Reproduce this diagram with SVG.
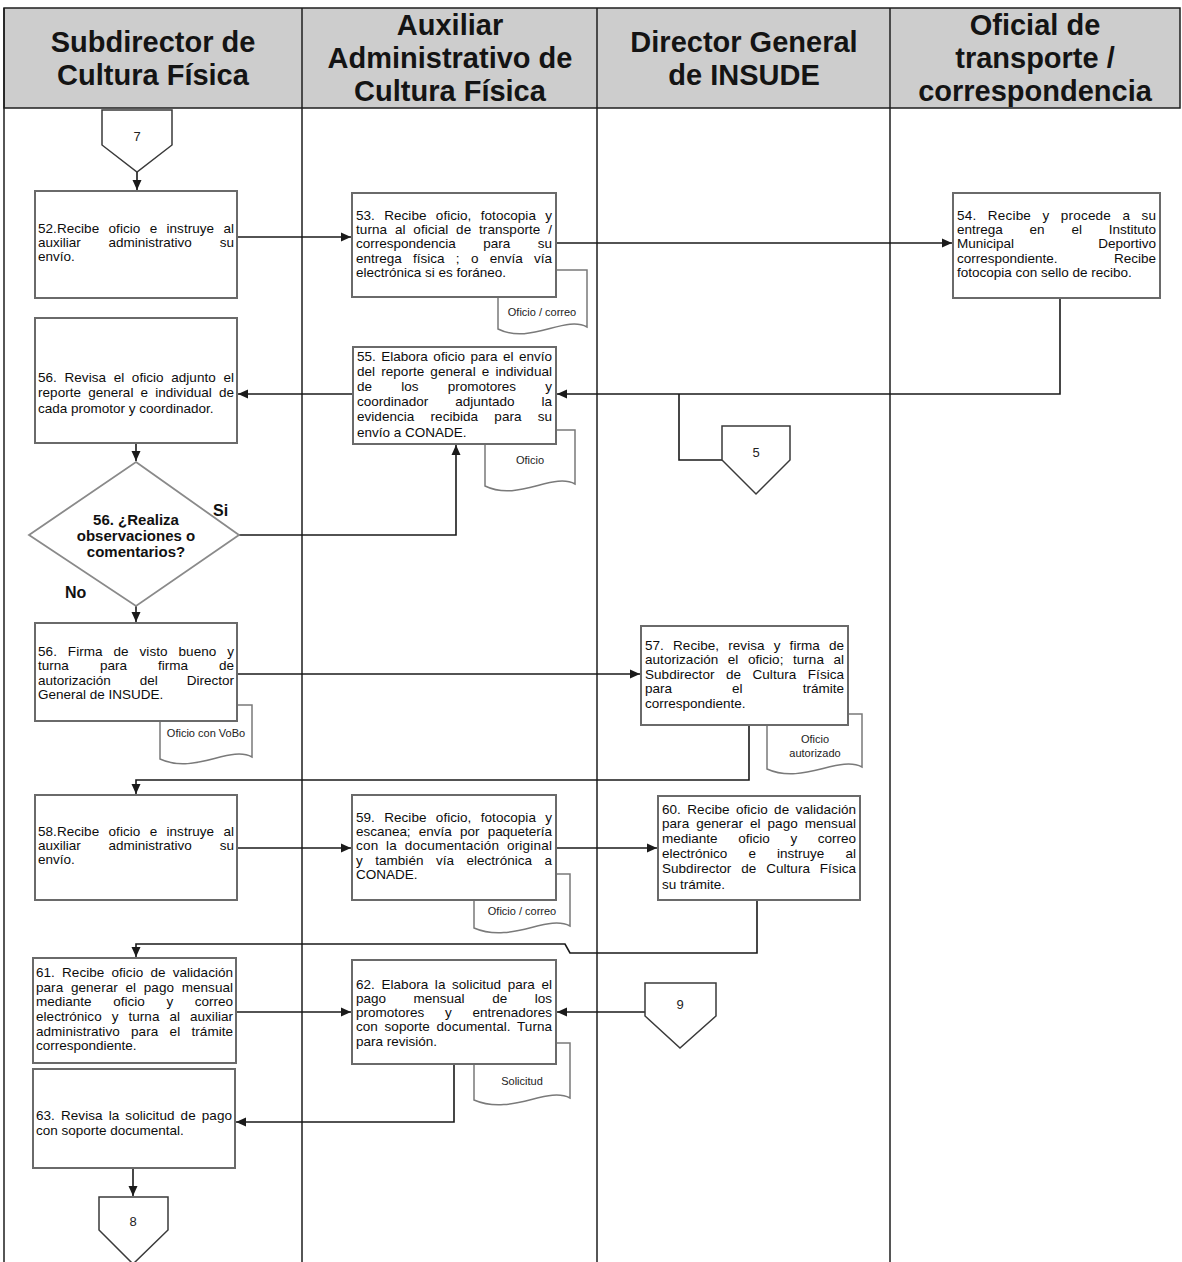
<svg xmlns="http://www.w3.org/2000/svg" width="1182" height="1262" viewBox="0 0 1182 1262">
  <style>
    .lane { stroke: #1e1e1e; stroke-width: 1.5; fill: none; }
    .hdr { font-family: "Liberation Sans", Arial, sans-serif; font-weight: bold; font-size: 29px; fill: #141414; text-anchor: middle; }
    .box { fill: #ffffff; stroke: #6a6a6a; stroke-width: 2; }
    .doc { fill: #ffffff; stroke: #7a7a7a; stroke-width: 1.5; }
    .off { fill: #ffffff; stroke: #3a3a3a; stroke-width: 1.5; }
    .dia { fill: #ffffff; stroke: #8a8a8a; stroke-width: 1.8; }
    .t { font-family: "Liberation Sans", Arial, sans-serif; font-size: 13.5px; fill: #0c0c0c; }
    .r { text-anchor: end; }
    .dt { font-family: "Liberation Sans", Arial, sans-serif; font-size: 11px; fill: #222222; text-anchor: middle; }
    .qt { font-family: "Liberation Sans", Arial, sans-serif; font-size: 15px; font-weight: bold; fill: #111111; text-anchor: middle; }
    .lbl { font-family: "Liberation Sans", Arial, sans-serif; font-size: 16px; font-weight: bold; fill: #111111; }
    .num { font-family: "Liberation Sans", Arial, sans-serif; font-size: 13px; fill: #222222; text-anchor: middle; }
    .wire { fill: none; stroke: #1a1a1a; stroke-width: 1.6; }
  </style>
  <defs>
    <marker id="arr" markerUnits="userSpaceOnUse" markerWidth="12" markerHeight="10" refX="10" refY="5" orient="auto">
      <path d="M0,0.5 L10,5 L0,9.5 Z" fill="#1a1a1a"/>
    </marker>
  </defs>

  <rect width="1182" height="1262" fill="#ffffff"/>

  <!-- swimlane header -->
  <g id="header">
    <rect x="4" y="8" width="1176" height="100" fill="#cdcdcd" stroke="#1e1e1e" stroke-width="1.5"/>
    <text class="hdr"><tspan x="153" y="52">Subdirector de</tspan><tspan x="153" y="85">Cultura Física</tspan></text>
    <text class="hdr"><tspan x="450" y="35">Auxiliar</tspan><tspan x="450" y="68">Administrativo de</tspan><tspan x="450" y="101">Cultura Física</tspan></text>
    <text class="hdr"><tspan x="744" y="52">Director General</tspan><tspan x="744" y="85">de INSUDE</tspan></text>
    <text class="hdr"><tspan x="1035" y="35">Oficial de</tspan><tspan x="1035" y="68">transporte /</tspan><tspan x="1035" y="101">correspondencia</tspan></text>
  </g>

  <!-- lane dividers -->
  <g id="lanes">
    <line class="lane" x1="4" y1="8" x2="4" y2="1262"/>
    <line class="lane" x1="302" y1="8" x2="302" y2="1262"/>
    <line class="lane" x1="597" y1="8" x2="597" y2="1262"/>
    <line class="lane" x1="890" y1="8" x2="890" y2="1262"/>
  </g>

  <!-- document outputs (drawn beneath the process boxes) -->
  <g id="documents">
    <g id="doc-53">
      <path class="doc" d="M498,270 H587 V327 C565,315 530,345 498,329 Z"/>
      <text class="dt" x="542" y="316">Oficio / correo</text>
    </g>
    <g id="doc-55">
      <path class="doc" d="M485,430 H575 V484 C553,472 518,502 485,486 Z"/>
      <text class="dt" x="530" y="464">Oficio</text>
    </g>
    <g id="doc-56b">
      <path class="doc" d="M160,705 H252 V757 C230,745 194,775 160,759 Z"/>
      <text class="dt" x="206" y="737">Oficio con VoBo</text>
    </g>
    <g id="doc-57">
      <path class="doc" d="M767,714 H862 V767 C839,755 802,785 767,769 Z"/>
      <text class="dt"><tspan x="815" y="743">Oficio</tspan><tspan x="815" y="757">autorizado</tspan></text>
    </g>
    <g id="doc-59">
      <path class="doc" d="M474,874 H570 V926 C547,914 511,944 474,928 Z"/>
      <text class="dt" x="522" y="915">Oficio / correo</text>
    </g>
    <g id="doc-62">
      <path class="doc" d="M474,1043 H570 V1098 C547,1086 511,1116 474,1100 Z"/>
      <text class="dt" x="522" y="1085">Solicitud</text>
    </g>
  </g>

  <!-- connectors -->
  <g id="connectors">
    <path class="wire" d="M137,172 V190" marker-end="url(#arr)"/>
    <path class="wire" d="M237,237 H351" marker-end="url(#arr)"/>
    <path class="wire" d="M556,243 H952" marker-end="url(#arr)"/>
    <path class="wire" d="M1060,298 V394 H557" marker-end="url(#arr)"/>
    <path class="wire" d="M679,394 V460 H722"/>
    <path class="wire" d="M353,394 H238" marker-end="url(#arr)"/>
    <path class="wire" d="M136,443 V461" marker-end="url(#arr)"/>
    <path class="wire" d="M238,535 H456 V445" marker-end="url(#arr)"/>
    <path class="wire" d="M136,606 V622" marker-end="url(#arr)"/>
    <path class="wire" d="M237,674 H640" marker-end="url(#arr)"/>
    <path class="wire" d="M749,725 V780 H136 V794" marker-end="url(#arr)"/>
    <path class="wire" d="M237,848 H351" marker-end="url(#arr)"/>
    <path class="wire" d="M556,848 H657" marker-end="url(#arr)"/>
    <path class="wire" d="M757,900 V953 H570 L565,944 H136 V957" marker-end="url(#arr)"/>
    <path class="wire" d="M236,1012 H351" marker-end="url(#arr)"/>
    <path class="wire" d="M645,1012 H557" marker-end="url(#arr)"/>
    <path class="wire" d="M454,1064 V1122 H236" marker-end="url(#arr)"/>
    <path class="wire" d="M133,1168 V1196" marker-end="url(#arr)"/>
  </g>

  <!-- off-page connectors -->
  <g id="off-7">
    <path class="off" d="M102,110 H172 V145 L137,172 L102,145 Z"/>
    <text class="num" x="137" y="141">7</text>
  </g>
  <g id="off-5">
    <path class="off" d="M722,426 H790 V460 L756,494 L722,460 Z"/>
    <text class="num" x="756" y="457">5</text>
  </g>
  <g id="off-9">
    <path class="off" d="M645,983 H716 V1016 L680,1048 L645,1016 Z"/>
    <text class="num" x="680" y="1009">9</text>
  </g>
  <g id="off-8">
    <path class="off" d="M99,1197 H168 V1230 L133,1264 L99,1230 Z"/>
    <text class="num" x="133" y="1226">8</text>
  </g>

  <!-- Subdirector de Cultura Física -->
  <g id="step-52">
    <rect class="box" x="35" y="191" width="202" height="107"/>
    <text class="t" x="38" y="233" textLength="196" lengthAdjust="spacing" word-spacing="5.5">52.Recibe oficio e instruye al</text>
    <text class="t" y="247"><tspan x="38">auxiliar</tspan><tspan x="108.6">administrativo</tspan><tspan class="r" x="234">su</tspan></text>
    <text class="t" x="38" y="261">envío.</text>
  </g>

  <g id="step-56-revisa">
    <rect class="box" x="35" y="318" width="202" height="125"/>
    <text class="t" x="38" y="382" textLength="196" lengthAdjust="spacing" word-spacing="3.8">56. Revisa el oficio adjunto el</text>
    <text class="t" x="38" y="397" textLength="196" lengthAdjust="spacing" word-spacing="3.3">reporte general e individual de</text>
    <text class="t" x="38" y="413">cada promotor y coordinador.</text>
  </g>

  <g id="decision-56">
    <path class="dia" d="M136,462 L239,535 L136,606 L29,535 Z"/>
    <text class="qt"><tspan x="136" y="525">56. ¿Realiza</tspan><tspan x="136" y="541">observaciones o</tspan><tspan x="136" y="557">comentarios?</tspan></text>
    <text class="lbl" x="213" y="516">Si</text>
    <text class="lbl" x="65" y="598">No</text>
  </g>

  <g id="step-56-firma">
    <rect class="box" x="35" y="623" width="202" height="98"/>
    <text class="t" x="38" y="656" textLength="196" lengthAdjust="spacing" word-spacing="7.1">56. Firma de visto bueno y</text>
    <text class="t" y="670"><tspan x="38">turna</tspan><tspan x="99.9">para</tspan><tspan x="158">firma</tspan><tspan class="r" x="234">de</tspan></text>
    <text class="t" y="685"><tspan x="38">autorización</tspan><tspan x="139.8">del</tspan><tspan class="r" x="234">Director</tspan></text>
    <text class="t" x="38" y="699">General de INSUDE.</text>
  </g>

  <g id="step-58">
    <rect class="box" x="35" y="795" width="202" height="105"/>
    <text class="t" x="38" y="836" textLength="196" lengthAdjust="spacing" word-spacing="5.5">58.Recibe oficio e instruye al</text>
    <text class="t" y="850"><tspan x="38">auxiliar</tspan><tspan x="108.6">administrativo</tspan><tspan class="r" x="234">su</tspan></text>
    <text class="t" x="38" y="864">envío.</text>
  </g>

  <g id="step-61">
    <rect class="box" x="33" y="958" width="203" height="105"/>
    <text class="t" x="36" y="977" textLength="197" lengthAdjust="spacing" word-spacing="3.4">61. Recibe oficio de validación</text>
    <text class="t" x="36" y="992" textLength="197" lengthAdjust="spacing" word-spacing="3.9">para generar el pago mensual</text>
    <text class="t" y="1006"><tspan x="36">mediante</tspan><tspan x="113.2">oficio</tspan><tspan x="166.4">y</tspan><tspan class="r" x="233">correo</tspan></text>
    <text class="t" x="36" y="1021" textLength="197" lengthAdjust="spacing" word-spacing="6.2">electrónico y turna al auxiliar</text>
    <text class="t" x="36" y="1036" textLength="197" lengthAdjust="spacing" word-spacing="7.6">administrativo para el trámite</text>
    <text class="t" x="36" y="1050">correspondiente.</text>
  </g>

  <g id="step-63">
    <rect class="box" x="33" y="1069" width="202" height="99"/>
    <text class="t" x="36" y="1120" textLength="196" lengthAdjust="spacing" word-spacing="2.3">63. Revisa la solicitud de pago</text>
    <text class="t" x="36" y="1135">con soporte documental.</text>
  </g>

  <!-- Auxiliar Administrativo de Cultura Física -->
  <g id="step-53">
    <rect class="box" x="352" y="193" width="204" height="104"/>
    <text class="t" x="356" y="220" textLength="196" lengthAdjust="spacing" word-spacing="5.5">53. Recibe oficio, fotocopia y</text>
    <text class="t" x="356" y="234" textLength="196" lengthAdjust="spacing" word-spacing="4">turna al oficial de transporte /</text>
    <text class="t" y="248"><tspan x="356">correspondencia</tspan><tspan x="483.3">para</tspan><tspan class="r" x="552">su</tspan></text>
    <text class="t" x="356" y="263" textLength="196" lengthAdjust="spacing" word-spacing="7.5">entrega física ; o envía vía</text>
    <text class="t" x="356" y="277">electrónica si es foráneo.</text>
  </g>

  <g id="step-55">
    <rect class="box" x="353" y="347" width="203" height="97"/>
    <text class="t" x="357" y="361" textLength="195" lengthAdjust="spacing" word-spacing="1.7">55. Elabora oficio para el envío</text>
    <text class="t" x="357" y="376" textLength="195" lengthAdjust="spacing" word-spacing="2.3">del reporte general e individual</text>
    <text class="t" y="391"><tspan x="357">de</tspan><tspan x="401.2">los</tspan><tspan x="447.7">promotores</tspan><tspan class="r" x="552">y</tspan></text>
    <text class="t" y="406"><tspan x="357">coordinador</tspan><tspan x="455.3">adjuntado</tspan><tspan class="r" x="552">la</tspan></text>
    <text class="t" x="357" y="421" textLength="195" lengthAdjust="spacing" word-spacing="12.4">evidencia recibida para su</text>
    <text class="t" x="357" y="437">envío a CONADE.</text>
  </g>

  <g id="step-59">
    <rect class="box" x="352" y="795" width="204" height="105"/>
    <text class="t" x="356" y="822" textLength="196" lengthAdjust="spacing" word-spacing="5.5">59. Recibe oficio, fotocopia y</text>
    <text class="t" x="356" y="836" textLength="196" lengthAdjust="spacing" word-spacing="4.5">escanea; envía por paquetería</text>
    <text class="t" x="356" y="850" textLength="196" lengthAdjust="spacing" word-spacing="3.7">con la documentación original</text>
    <text class="t" x="356" y="865" textLength="196" lengthAdjust="spacing" word-spacing="8.7">y también vía electrónica a</text>
    <text class="t" x="356" y="879">CONADE.</text>
  </g>

  <g id="step-62">
    <rect class="box" x="352" y="960" width="204" height="104"/>
    <text class="t" x="356" y="989" textLength="196" lengthAdjust="spacing" word-spacing="2.8">62. Elabora la solicitud para el</text>
    <text class="t" y="1003"><tspan x="356">pago</tspan><tspan x="413.6">mensual</tspan><tspan x="492.2">de</tspan><tspan class="r" x="552">los</tspan></text>
    <text class="t" y="1017"><tspan x="356">promotores</tspan><tspan x="445">y</tspan><tspan class="r" x="552">entrenadores</tspan></text>
    <text class="t" x="356" y="1031" textLength="196" lengthAdjust="spacing" word-spacing="2.8">con soporte documental. Turna</text>
    <text class="t" x="356" y="1046">para revisión.</text>
  </g>

  <!-- Director General de INSUDE -->
  <g id="step-57">
    <rect class="box" x="641" y="626" width="207" height="99"/>
    <text class="t" x="645" y="650" textLength="199" lengthAdjust="spacing" word-spacing="5.3">57. Recibe, revisa y firma de</text>
    <text class="t" x="645" y="664" textLength="199" lengthAdjust="spacing" word-spacing="5.7">autorización el oficio; turna al</text>
    <text class="t" x="645" y="679" textLength="199" lengthAdjust="spacing" word-spacing="7.7">Subdirector de Cultura Física</text>
    <text class="t" y="693"><tspan x="645">para</tspan><tspan x="732.1">el</tspan><tspan class="r" x="844">trámite</tspan></text>
    <text class="t" x="645" y="708">correspondiente.</text>
  </g>

  <g id="step-60">
    <rect class="box" x="658" y="796" width="202" height="104"/>
    <text class="t" x="662" y="814" textLength="194" lengthAdjust="spacing" word-spacing="2.6">60. Recibe oficio de validación</text>
    <text class="t" x="662" y="828" textLength="194" lengthAdjust="spacing" word-spacing="3.2">para generar el pago mensual</text>
    <text class="t" y="843"><tspan x="662">mediante</tspan><tspan x="738.2">oficio</tspan><tspan x="790.4">y</tspan><tspan class="r" x="856">correo</tspan></text>
    <text class="t" y="858"><tspan x="662">electrónico</tspan><tspan x="748.4">e</tspan><tspan x="777">instruye</tspan><tspan class="r" x="856">al</tspan></text>
    <text class="t" x="662" y="873" textLength="194" lengthAdjust="spacing" word-spacing="6.1">Subdirector de Cultura Física</text>
    <text class="t" x="662" y="889">su trámite.</text>
  </g>

  <!-- Oficial de transporte / correspondencia -->
  <g id="step-54">
    <rect class="box" x="953" y="193" width="207" height="105"/>
    <text class="t" x="957" y="220" textLength="199" lengthAdjust="spacing" word-spacing="7.4">54. Recibe y procede a su</text>
    <text class="t" y="234"><tspan x="957">entrega</tspan><tspan x="1029.6">en</tspan><tspan x="1071.4">el</tspan><tspan class="r" x="1156">Instituto</tspan></text>
    <text class="t" y="248"><tspan x="957">Municipal</tspan><tspan class="r" x="1156">Deportivo</tspan></text>
    <text class="t" y="263"><tspan x="957">correspondiente.</tspan><tspan class="r" x="1156">Recibe</tspan></text>
    <text class="t" x="957" y="277">fotocopia con sello de recibo.</text>
  </g>
</svg>
